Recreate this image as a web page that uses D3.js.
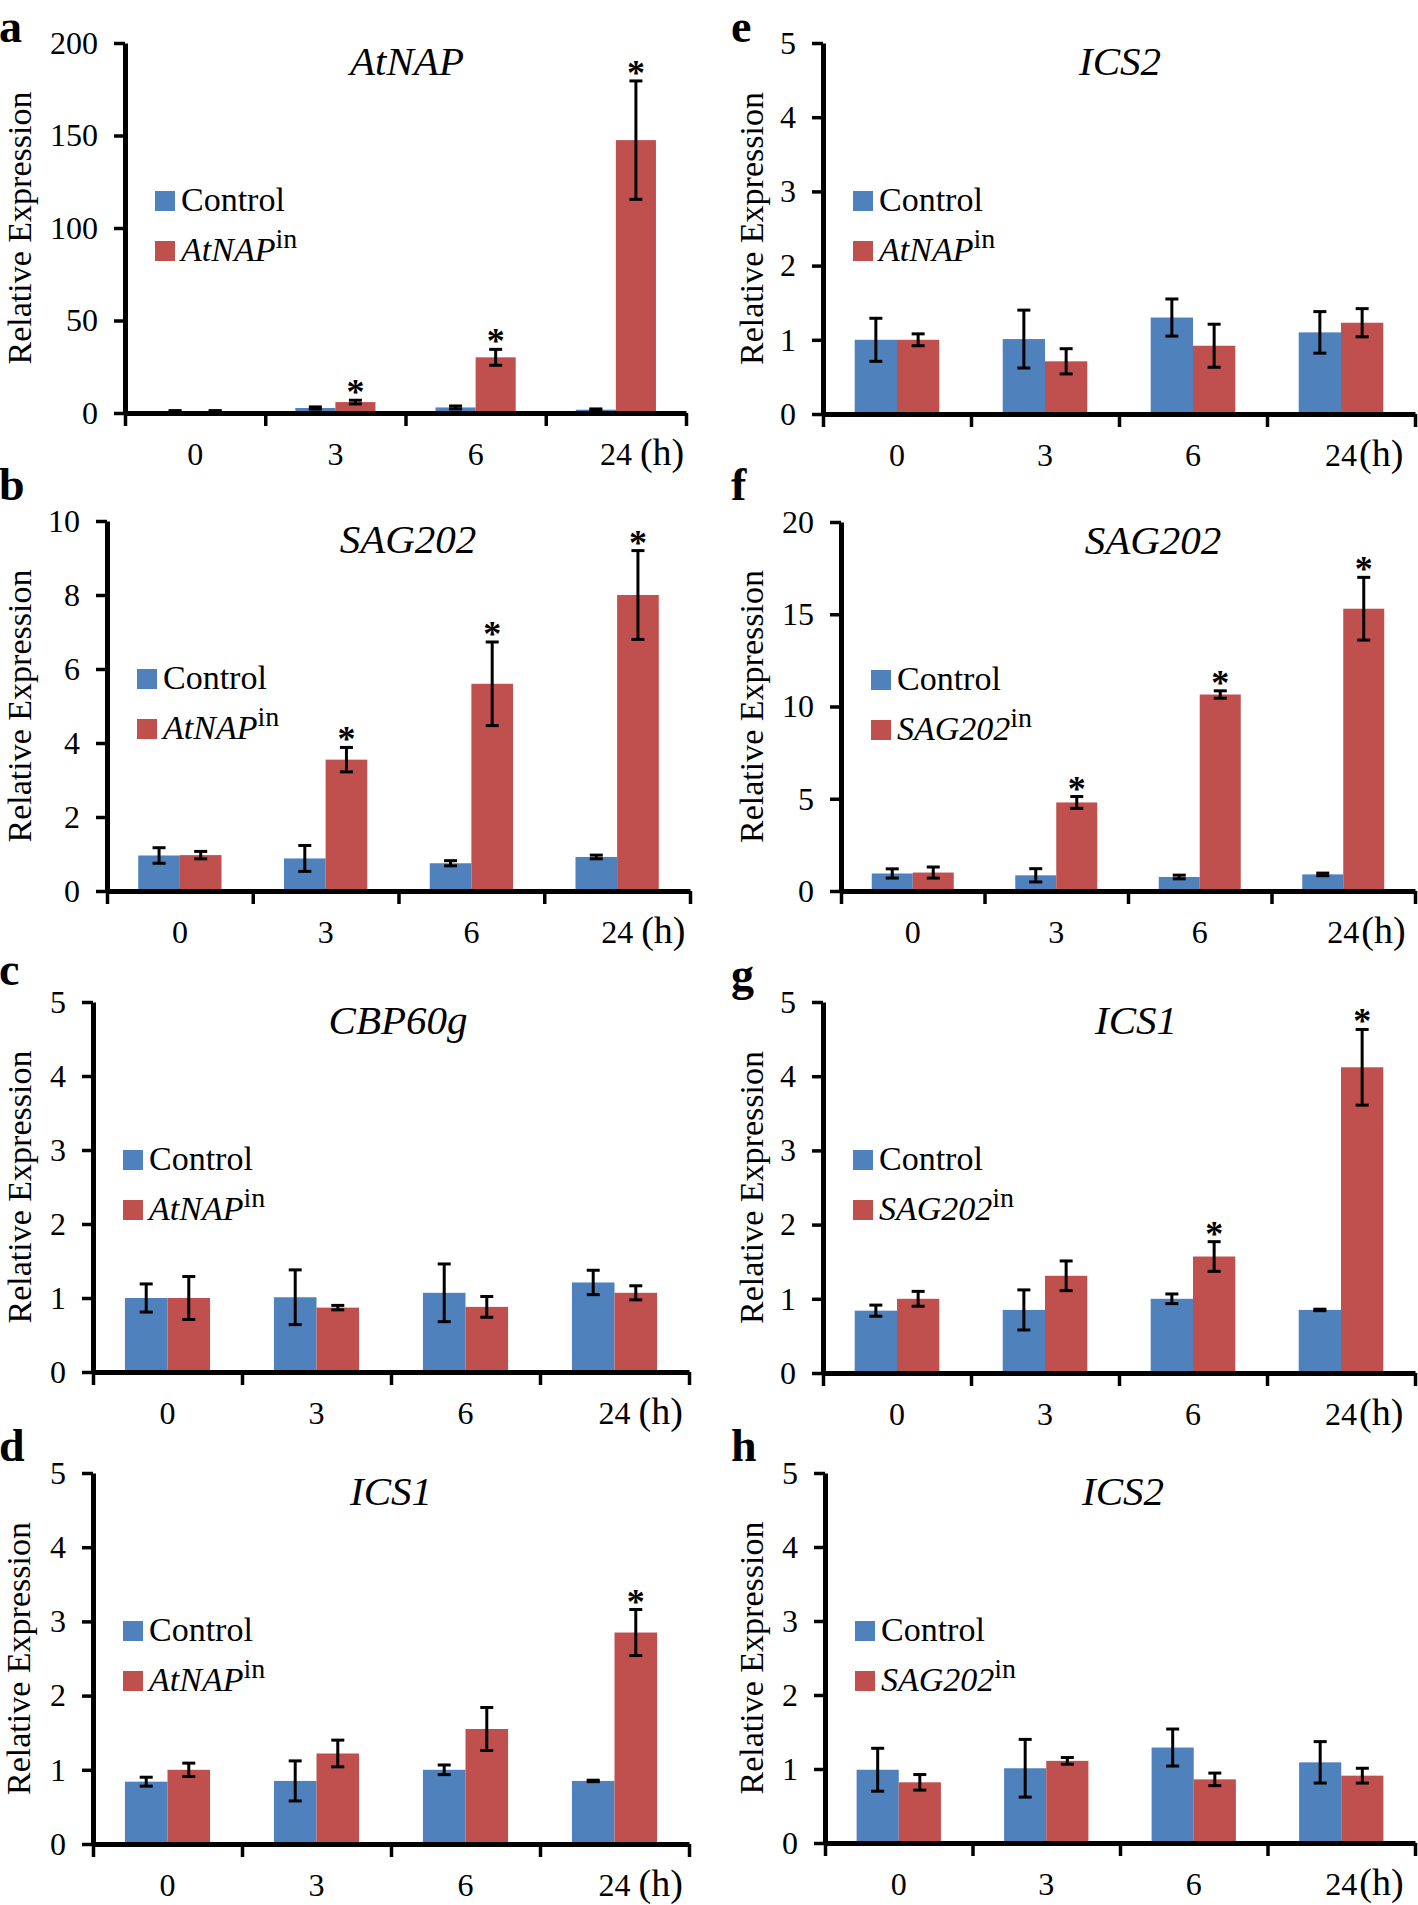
<!DOCTYPE html>
<html>
<head>
<meta charset="utf-8">
<script src="https://cdn.jsdelivr.net/npm/d3@7"></script>
<style>
  body { margin: 0; background: #fff; }
  text { font-family: "Liberation Serif", "Times New Roman", serif; fill: #000; }
</style>
</head>
<body>
<svg id="fig" width="1418" height="1905"></svg>
<script>
// ---- data ----
var categories = ["0", "3", "6", "24"];
var letters = ["a", "b", "c", "d", "e", "f", "g", "h"];
var genes = ["AtNAP", "SAG202", "CBP60g", "ICS1", "ICS2", "SAG202", "ICS1", "ICS2"];
var lines = ["AtNAP", "AtNAP", "AtNAP", "AtNAP", "AtNAP", "SAG202", "SAG202", "SAG202"];
var yMax = [200, 10, 5, 5, 5, 20, 5, 5];
var yStep = [50, 2, 1, 1, 1, 5, 1, 1];

var controlMean = [
  [1.0, 2.7, 3.0, 1.8],
  [0.96, 0.88, 0.75, 0.92],
  [1.0, 1.01, 1.07, 1.21],
  [0.84, 0.85, 1.0, 0.85],
  [1.0, 1.01, 1.30, 1.10],
  [0.95, 0.85, 0.76, 0.9],
  [0.84, 0.85, 1.0, 0.85],
  [0.99, 1.01, 1.29, 1.09]
];
var controlErr = [
  [0.3, 0.6, 0.8, 0.4],
  [0.21, 0.35, 0.07, 0.05],
  [0.19, 0.37, 0.39, 0.165],
  [0.06, 0.27, 0.065, 0.01],
  [0.29, 0.39, 0.25, 0.28],
  [0.25, 0.36, 0.1, 0.07],
  [0.075, 0.27, 0.065, 0.01],
  [0.29, 0.39, 0.25, 0.28]
];
var lineMean = [
  [1.0, 5.9, 30.1, 147.5],
  [0.97, 3.55, 5.6, 8.0],
  [1.0, 0.87, 0.88, 1.07],
  [1.0, 1.22, 1.55, 2.85],
  [1.0, 0.71, 0.92, 1.23],
  [1.0, 4.8, 10.65, 15.3],
  [1.0, 1.31, 1.57, 4.12],
  [0.82, 1.11, 0.86, 0.91]
];
var lineErr = [
  [0.3, 1.0, 4.3, 32],
  [0.1, 0.33, 1.13, 1.2],
  [0.29, 0.03, 0.14, 0.095],
  [0.09, 0.18, 0.29, 0.31],
  [0.08, 0.17, 0.29, 0.19],
  [0.3, 0.32, 0.2, 1.7],
  [0.1, 0.2, 0.2, 0.51],
  [0.105, 0.045, 0.085, 0.1]
];
// 1 = significant (asterisk above the line bar)
var stars = [
  [0, 1, 1, 1],
  [0, 1, 1, 1],
  [0, 0, 0, 0],
  [0, 0, 0, 1],
  [0, 0, 0, 0],
  [0, 1, 1, 1],
  [0, 0, 1, 1],
  [0, 0, 0, 0]
];

// ---- layout of the eight panels ----
var layout = [
  {left: 125, right: 686, top: 43,   zero: 413,  titleX: 407,  yTitleX: 31,  letterX: -1,  letterY: 42,   hGap: 8},
  {left: 107, right: 690, top: 521,  zero: 891,  titleX: 408,  yTitleX: 31,  letterX: -1,  letterY: 500,  hGap: 8},
  {left: 93,  right: 689, top: 1002, zero: 1372, titleX: 398,  yTitleX: 31,  letterX: -1,  letterY: 985,  hGap: 8},
  {left: 93,  right: 689, top: 1473, zero: 1844, titleX: 391,  yTitleX: 30,  letterX: -1,  letterY: 1461, hGap: 8},
  {left: 823, right: 1415, top: 43,  zero: 414,  titleX: 1120, yTitleX: 763, letterX: 731, letterY: 42,   hGap: 2},
  {left: 841, right: 1415, top: 522, zero: 891,  titleX: 1153, yTitleX: 763, letterX: 731, letterY: 500,  hGap: 2},
  {left: 823, right: 1415, top: 1002, zero: 1373, titleX: 1136, yTitleX: 763, letterX: 731, letterY: 990, hGap: 2},
  {left: 825, right: 1415, top: 1473, zero: 1843, titleX: 1123, yTitleX: 763, letterX: 731, letterY: 1461, hGap: 2}
];

var blue = "#4F81BD";
var red = "#C0504D";

var svg = d3.select("#fig");
svg.append("rect").attr("width", 1418).attr("height", 1905).attr("fill", "#fff");

layout.forEach(function(L, i) {

  var g = svg.append("g");

  //scales
  var y = d3.scaleLinear().domain([0, yMax[i]]).range([L.zero, L.top]);
  var x = d3.scaleBand().domain(categories).range([L.left, L.right]);
  var xs = d3.scaleBand().domain(["control", "line"])
    .range([0, x.bandwidth()]).paddingInner(0).paddingOuter(0.75);
  var xb = d3.scaleLinear().domain([0, categories.length]).range([L.left, L.right]);

  var rows = categories.map(function(c, j) {
    return [
      {cat: c, key: "control", v: controlMean[i][j], e: controlErr[i][j], star: 0, fill: blue},
      {cat: c, key: "line", v: lineMean[i][j], e: lineErr[i][j], star: stars[i][j], fill: red}
    ];
  });
  var bars = d3.merge(rows);

  //bars
  g.selectAll("rect.bar")
    .data(bars)
    .enter()
    .append("rect")
    .attr("class", "bar")
    .attr("x", function(d) { return x(d.cat) + xs(d.key); })
    .attr("width", xs.bandwidth())
    .attr("y", function(d) { return y(d.v); })
    .attr("height", function(d) { return y(0) - y(d.v); })
    .attr("fill", function(d) { return d.fill; });

  //error bars
  var cap = 6.5;
  var eb = g.selectAll("g.err")
    .data(bars)
    .enter()
    .append("g")
    .attr("class", "err")
    .attr("stroke", "#000")
    .attr("stroke-width", 3);
  eb.append("line")
    .attr("x1", function(d) { return x(d.cat) + xs(d.key) + xs.bandwidth() / 2; })
    .attr("x2", function(d) { return x(d.cat) + xs(d.key) + xs.bandwidth() / 2; })
    .attr("y1", function(d) { return y(d.v + d.e); })
    .attr("y2", function(d) { return y(d.v - d.e); });
  [1, -1].forEach(function(s) {
    eb.append("line")
      .attr("x1", function(d) { return x(d.cat) + xs(d.key) + xs.bandwidth() / 2 - cap; })
      .attr("x2", function(d) { return x(d.cat) + xs(d.key) + xs.bandwidth() / 2 + cap; })
      .attr("y1", function(d) { return y(d.v + s * d.e); })
      .attr("y2", function(d) { return y(d.v + s * d.e); });
  });

  //asterisks
  g.selectAll("text.star")
    .data(bars.filter(function(d) { return d.star; }))
    .enter()
    .append("text")
    .attr("class", "star")
    .attr("x", function(d) { return x(d.cat) + xs(d.key) + xs.bandwidth() / 2; })
    .attr("y", function(d) { return y(d.v + d.e) + 4; })
    .attr("text-anchor", "middle")
    .style("font-size", "36px")
    .style("font-weight", "bold")
    .text("*");

  //y axis
  var yAxis = g.append("g")
    .attr("transform", "translate(" + L.left + ",0)")
    .call(d3.axisLeft(y)
      .tickValues(d3.range(0, yMax[i] + yStep[i] / 2, yStep[i]))
      .tickFormat(d3.format("d"))
      .tickSize(11).tickSizeOuter(0).tickPadding(16));
  yAxis.selectAll("text").style("font-size", "32px");

  //x axis with ticks at the category boundaries
  var xAxis = g.append("g")
    .attr("transform", "translate(0," + L.zero + ")")
    .call(d3.axisBottom(xb).tickValues(d3.range(0, categories.length + 1))
      .tickFormat("").tickSize(13).tickSizeOuter(0));

  [yAxis, xAxis].forEach(function(a) {
    a.select(".domain").attr("stroke", "#000").attr("stroke-width", 5);
    a.selectAll(".tick line").attr("stroke", "#000").attr("stroke-width", 3.5);
  });

  //x labels
  g.selectAll("text.xlab")
    .data(categories)
    .enter()
    .append("text")
    .attr("class", "xlab")
    .attr("x", function(c) { return x(c) + x.bandwidth() / 2; })
    .attr("y", L.zero + 52)
    .attr("text-anchor", "middle")
    .style("font-size", "32px")
    .text(function(c) { return c; });
  var last = categories[categories.length - 1];
  g.append("text")
    .attr("x", x(last) + x.bandwidth() / 2 + 16 + L.hGap)
    .attr("y", L.zero + 52)
    .style("font-size", "38px")
    .text("(h)");

  //gene title
  g.append("text")
    .attr("x", L.titleX)
    .attr("y", L.top + 32)
    .attr("text-anchor", "middle")
    .style("font-size", "41px")
    .style("font-style", "italic")
    .text(genes[i]);

  //y title
  g.append("text")
    .attr("transform", "translate(" + L.yTitleX + "," + ((L.top + L.zero) / 2) + ") rotate(-90)")
    .attr("text-anchor", "middle")
    .style("font-size", "34px")
    .text("Relative Expression");

  //legend
  var lx = L.left + 30, ly = L.top + 148;
  var leg = g.append("g").attr("transform", "translate(" + lx + "," + ly + ")");
  leg.append("rect").attr("width", 20).attr("height", 20).attr("fill", blue);
  leg.append("text").attr("x", 26).attr("y", 20).style("font-size", "34px").text("Control");
  leg.append("rect").attr("y", 50).attr("width", 20).attr("height", 20).attr("fill", red);
  var t2 = leg.append("text").attr("x", 26).attr("y", 70).style("font-size", "34px");
  t2.append("tspan").style("font-style", "italic").text(lines[i]);
  t2.append("tspan").attr("dy", -13).style("font-size", "28px").text("in");

  //panel letter
  g.append("text")
    .attr("x", L.letterX)
    .attr("y", L.letterY)
    .style("font-size", "46px")
    .style("font-weight", "bold")
    .text(letters[i]);
});
</script>
</body>
</html>
